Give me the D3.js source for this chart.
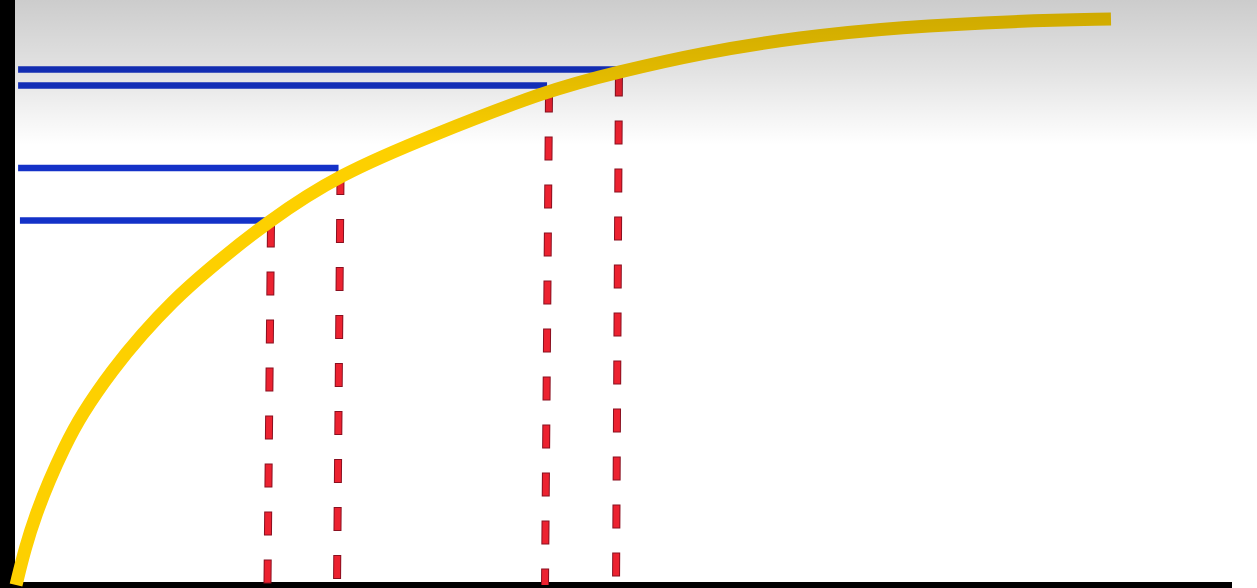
<!DOCTYPE html>
<html>
<head>
<meta charset="utf-8">
<script src="https://cdn.jsdelivr.net/npm/d3@7/dist/d3.min.js"></script>
<style>
html,body{margin:0;padding:0;background:#fff;overflow:hidden;}
svg{display:block;}
</style>
</head>
<body>
<svg id="chart" width="1257" height="588"></svg>
<script>
// ---- data (abstract units: x 0..100, y 0..100) ----
const curveX = [0.33, 1.07, 1.97, 3.03, 4.26, 5.66, 8.28, 10.66, 13.11, 15.82, 20.98, 26.89, 34.26, 43.93, 49.67, 56.39, 64.59, 72.79, 82.38, 90.08];
const curveY = [0, 6.49, 12.46, 18.25, 24.04, 29.82, 37.89, 44.04, 49.65, 54.91, 63.86, 72.11, 78.77, 86.84, 90.0, 93.33, 96.14, 97.89, 98.95, 99.30];

const levelY     = [63.95, 73.16, 87.63, 90.44];   // blue horizontal levels
const levelStart = [0.65, 0.5, 0.5, 0.5];          // where blue lines begin (x)
const dropXTop   = [21.23, 26.93, 44.02, 49.75];   // red drop lines, x at the curve
const dropXBase  = [20.94, 26.64, 43.69, 49.51];   // red drop lines, x at the baseline

const W = 1257, H = 588;
const svg = d3.select("#chart");
const x = d3.scaleLinear().domain([0, 100]).range([12, 1232]);
const y = d3.scaleLinear().domain([0, 100]).range([585, 15]);

// defs: top shading gradient
const defs = svg.append("defs");
const g = defs.append("linearGradient").attr("id", "shade")
  .attr("x1", 0).attr("y1", 0).attr("x2", 0).attr("y2", 1);
g.append("stop").attr("offset", "0%").attr("stop-color", "#000").attr("stop-opacity", 0.2);
g.append("stop").attr("offset", "50%").attr("stop-color", "#000").attr("stop-opacity", 0.11);
g.append("stop").attr("offset", "100%").attr("stop-color", "#000").attr("stop-opacity", 0);

// background
svg.append("rect").attr("width", W).attr("height", H).attr("fill", "#fff");

// axes (thick black bars)
svg.append("rect").attr("x", 0).attr("y", 0).attr("width", 15).attr("height", H).attr("fill", "#000");
svg.append("rect").attr("x", 0).attr("y", y(0) - 3).attr("width", x(100)).attr("height", 12).attr("fill", "#000");

const idx = d3.range(levelY.length);

// blue horizontal lines
svg.append("g").selectAll("line").data(idx).join("line")
  .attr("x1", i => x(levelStart[i]))
  .attr("x2", i => x(dropXTop[i]) - 2)
  .attr("y1", i => y(levelY[i]))
  .attr("y2", i => y(levelY[i]))
  .attr("stroke", "#1432c8")
  .attr("stroke-width", 6.5);

// red dashed drop lines (dark border + red fill)
const dropG = svg.append("g");
dropG.selectAll("line.border").data(idx).join("line")
  .attr("class", "border")
  .attr("x1", i => x(dropXTop[i]))
  .attr("x2", i => x(dropXBase[i]))
  .attr("y1", i => y(levelY[i]) + 3)
  .attr("y2", y(0))
  .attr("stroke", "#8a1020")
  .attr("stroke-width", 8)
  .attr("stroke-dasharray", "24,24");
dropG.selectAll("line.fill").data(idx).join("line")
  .attr("class", "fill")
  .attr("x1", i => x(dropXTop[i]))
  .attr("x2", i => x(dropXBase[i]))
  .attr("y1", i => y(levelY[i]) + 3)
  .attr("y2", y(0))
  .attr("stroke", "#ec2230")
  .attr("stroke-width", 6)
  .attr("stroke-dasharray", "22,26")
  .attr("stroke-dashoffset", -1);

// yellow curve
const pts = curveX.map((d, i) => [d, curveY[i]]);
svg.append("path")
  .datum(pts)
  .attr("d", d3.line().x(d => x(d[0])).y(d => y(d[1])).curve(d3.curveBasis))
  .attr("fill", "none")
  .attr("stroke", "#fdd000")
  .attr("stroke-width", 13)
  .attr("stroke-linecap", "butt");

// top shading overlay
svg.append("rect").attr("x", 0).attr("y", 0).attr("width", W).attr("height", y(77.2))
  .attr("fill", "url(#shade)");
</script>
</body>
</html>
